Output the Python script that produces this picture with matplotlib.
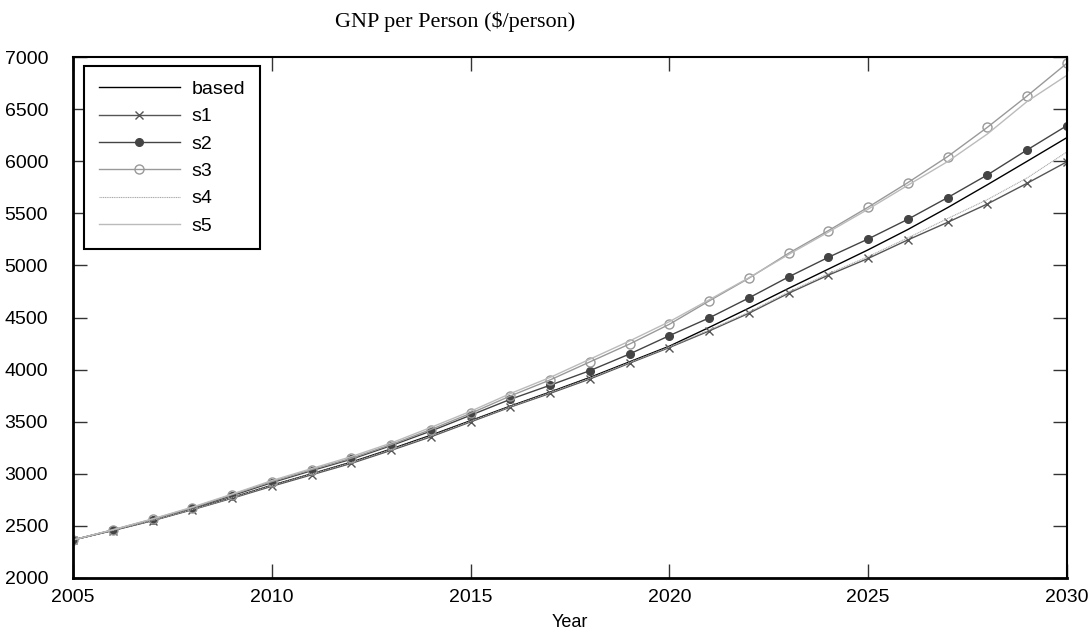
import numpy as np
import matplotlib
matplotlib.use("Agg")
import matplotlib.pyplot as plt

years = list(range(2005, 2031))

based = [2365, 2458, 2553, 2660, 2772, 2890, 3000, 3112, 3238, 3370, 3510,
         3650, 3785, 3925, 4075, 4225, 4405, 4590, 4780, 4965, 5150,
         5345, 5555, 5775, 6000, 6227]
s1 = [2365, 2455, 2550, 2655, 2765, 2880, 2990, 3100, 3225, 3355, 3498,
      3640, 3772, 3910, 4062, 4212, 4371, 4541, 4733, 4907, 5067,
      5245, 5414, 5590, 5789, 5995]
s2 = [2365, 2460, 2560, 2670, 2790, 2915, 3030, 3140, 3270, 3410, 3562,
      3715, 3850, 3990, 4150, 4326, 4496, 4688, 4890, 5078, 5254,
      5443, 5651, 5869, 6109, 6342]
s3 = [2365, 2462, 2565, 2675, 2800, 2925, 3040, 3150, 3280, 3425, 3580,
      3747, 3901, 4074, 4246, 4435, 4659, 4877, 5117, 5334, 5559,
      5795, 6045, 6326, 6627, 6941]
s4 = [2365, 2457, 2552, 2658, 2770, 2888, 2998, 3108, 3233, 3363, 3505,
      3645, 3780, 3918, 4068, 4218, 4380, 4552, 4745, 4920, 5085,
      5265, 5450, 5632, 5840, 6090]
s5 = [2365, 2463, 2567, 2680, 2805, 2935, 3050, 3165, 3295, 3445, 3600,
      3770, 3925, 4100, 4275, 4460, 4670, 4882, 5105, 5320, 5540,
      5770, 5997, 6262, 6574, 6825]

plt.rcParams['font.family'] = ['Liberation Sans', 'DejaVu Sans']

fig = plt.figure(figsize=(10.89, 6.33), dpi=100)
ax = fig.add_axes([73 / 1089, 1 - 578 / 633, (1067 - 73) / 1089, (578 - 57) / 633])

ax.plot(years, based, color='black', lw=1.0, label='based')
ax.plot(years, s1, color='#555555', lw=1.0, marker='x', ms=6, mew=1.0, label='s1')
ax.plot(years, s2, color='#444444', lw=1.0, marker='o', ms=5.5,
        mfc='#444444', mec='#444444', label='s2')
ax.plot(years, s3, color='#999999', lw=1.0, marker='o', ms=6.5,
        mfc='none', mec='#999999', label='s3')
ax.plot(years, s4, color='#aaaaaa', lw=0.8, ls=(0, (1, 0.6)), label='s4')
ax.plot(years, s5, color='#bbbbbb', lw=1.0, label='s5')

ax.set_xlim(2005, 2030)
ax.set_ylim(2000, 7000)
ax.set_xticks(range(2005, 2031, 5))
ax.set_yticks(range(2000, 7001, 500))
ax.tick_params(direction='in', length=10, width=1, color='#333333',
               top=True, right=True, labelsize=14, pad=8)
ax.tick_params(axis='y', pad=18)
for side in ['left', 'bottom']:
    ax.spines[side].set_linewidth(2)
for side in ['top', 'right']:
    ax.spines[side].set_linewidth(1.5)

ax.set_xlabel('Year', fontsize=13, labelpad=6)

fig.text(455 / 1089, 1 - 22 / 633, 'GNP per Person ($/person)', ha='center', va='center',
         fontsize=16, family='Liberation Serif')

leg = ax.legend(loc='upper left', bbox_to_anchor=(0.011, 0.983), borderaxespad=0,
                fontsize=14, handlelength=4.2, handletextpad=0.6, labelspacing=0.5,
                borderpad=0.75, fancybox=False, framealpha=1, edgecolor='black')
leg.get_frame().set_linewidth(1.5)

fig.savefig('out.png', dpi=100)
